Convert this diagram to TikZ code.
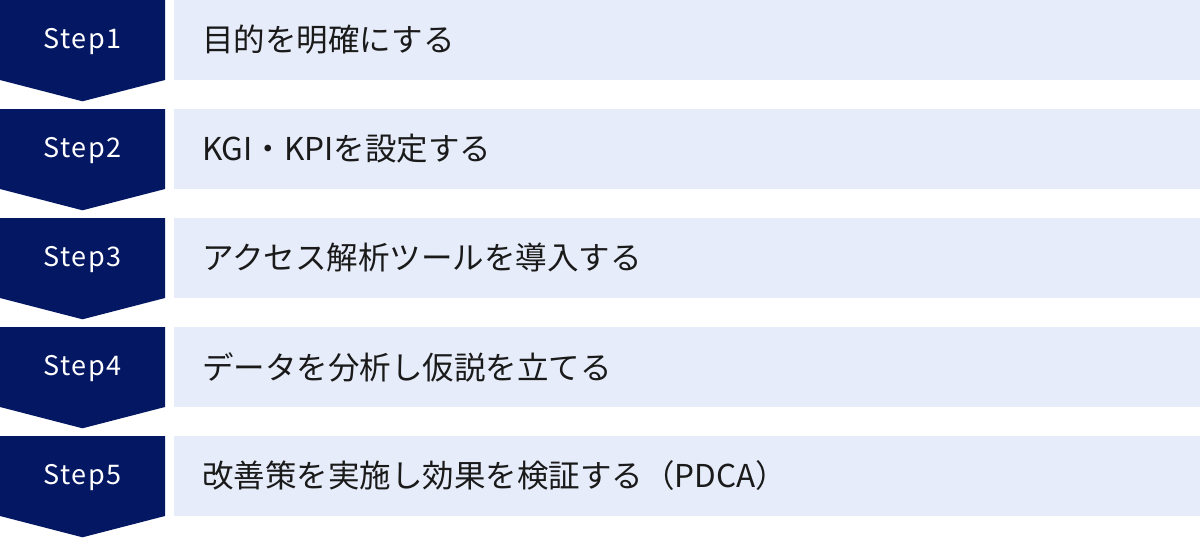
\documentclass[tikz,border=0pt]{standalone}
\usepackage{fontspec}
\setmainfont{Noto Sans CJK JP}
\newfontfamily\jp{Noto Sans CJK JP}
\newfontfamily\jpsp[LetterSpace=6]{Noto Sans CJK JP}
\definecolor{navy}{HTML}{041762}
\definecolor{pale}{HTML}{E6ECF9}
\definecolor{ink}{HTML}{1A1A1A}
\tikzset{
  steplabel/.style={text=white,font=\jpsp\fontsize{27}{32}\selectfont,anchor=center,inner sep=0pt},
  desc/.style={text=ink,font=\jp\fontsize{31.5}{36}\selectfont,anchor=west,inner sep=0pt},
}
\begin{document}
\begin{tikzpicture}[x=1pt,y=-1pt]
\useasboundingbox (0,0) rectangle (1200,538);
\foreach \i/\t in {1/目的を明確にする,2/KGI・KPIを設定する,3/アクセス解析ツールを導入する,4/データを分析し仮説を立てる,5/改善策を実施し効果を検証する（PDCA）}{
  \pgfmathsetmacro{\top}{(\i-1)*109}
  \fill[pale] (174,\top) rectangle (1200,\top+80);
  \fill[navy] (0,\top) -- (165,\top) -- (165,\top+80) -- (82.5,\top+101.3) -- (0,\top+80) -- cycle;
  \node[steplabel] (s\i) at (82.5,\top+42) {Step\i};
  \node[desc] (d\i) at (202,\top+40) {\t};
}
\end{tikzpicture}
\end{document}
